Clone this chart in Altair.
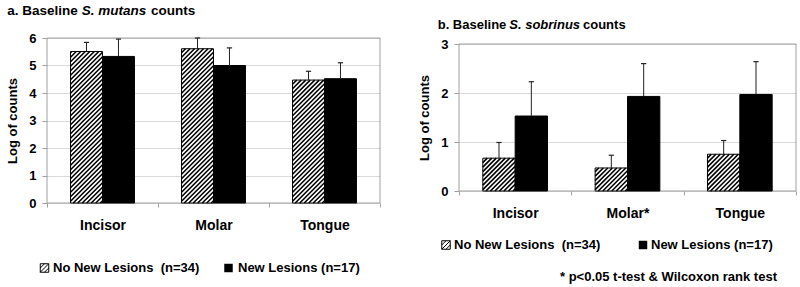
import altair as alt
import pandas as pd

FONT = "Liberation Sans"

categories = ["Incisor", "Molar", "Tongue"]
labels_a = ["Incisor", "Molar", "Tongue"]
labels_b = ["Incisor", "Molar*", "Tongue"]

mutans_no = [5.51, 5.61, 4.47]
mutans_no_err = [0.33, 0.39, 0.32]
mutans_new = [5.33, 5.00, 4.52]
mutans_new_err = [0.63, 0.64, 0.58]

sobrinus_no = [0.67, 0.47, 0.75]
sobrinus_no_err = [0.32, 0.26, 0.28]
sobrinus_new = [1.53, 1.93, 1.97]
sobrinus_new_err = [0.70, 0.67, 0.67]

series = ["No New Lesions \u00a0(n=34)", "New Lesions (n=17)"]
note = "* p<0.05 t-test & Wilcoxon rank test"

BAR_W = 0.288  # fraction of a category slot
GRID = "#d9d9d9"
BORDER = "#a0a0a0"


def bar_table(no, no_err, new, new_err):
    rows = []
    for i, c in enumerate(categories):
        ctr = i + 0.5
        rows.append(dict(cat=c, grp="no", x0=ctr - BAR_W, x1=ctr, v=no[i], top=no[i] + no_err[i], xc=ctr - BAR_W / 2))
        rows.append(dict(cat=c, grp="new", x0=ctr, x1=ctr + BAR_W, v=new[i], top=new[i] + new_err[i], xc=ctr + BAR_W / 2))
    return pd.DataFrame(rows)


def hatch_table(df, kx, ky, step=4.5):
    """Diagonal hatch segments clipped to each 'no' bar, in data units."""
    rows = []
    for _, r in df[df.grp == "no"].iterrows():
        W = (r.x1 - r.x0) * kx
        H = r.v * ky
        b = -W + step / 2
        while b < H:
            u0 = max(0.0, -b)
            u1 = min(W, H - b)
            if u1 > u0:
                rows.append(dict(xa=r.x0 + u0 / kx, ya=(u0 + b) / ky,
                                 xb=r.x0 + u1 / kx, yb=(u1 + b) / ky))
            b += step
    return pd.DataFrame(rows)


def text_layer(t, x, y, size=13, style="normal", align="left", baseline="middle"):
    return alt.Chart(pd.DataFrame({"t": [t]})).mark_text(
        font=FONT, fontWeight="bold", fontSize=size, fontStyle=style,
        align=align, baseline=baseline, color="black"
    ).encode(x=alt.value(x), y=alt.value(y), text="t:N")


HATCH_SHAPE = "M-1,-1H1V1H-1Z M-1,0L0,-1 M-1,1L1,-1 M0,1L1,0"


def panel(no, no_err, new, new_err, ymax, labels, W, VH, top_off, title_parts,
          legend_y, legend_x, note_pos, bound_pt):
    df = bar_table(no, no_err, new, new_err)
    kx = W / 3.0
    ky = (VH - top_off) / float(ymax)
    hatch = hatch_table(df, kx, ky)

    label_expr = " : ".join(
        [f"datum.value == {i + 0.5} ? '{lab}'" for i, lab in enumerate(labels)]
    ) + " : ''"

    xs = alt.Scale(domain=[0, 3], nice=False, zero=False)
    ys = alt.Scale(domain=[0, ymax], nice=False, zero=True, range=[VH, top_off])

    xaxis = alt.Axis(
        values=[0, 0.5, 1, 1.5, 2, 2.5, 3], labelExpr=label_expr, title=None,
        labelFont=FONT, labelFontWeight="bold", labelFontSize=14, labelColor="black",
        labelPadding=11, labelOverlap=False, labelFlush=False, grid=False, domain=False,
        tickSize=4,
        tickColor={"condition": {"test": "datum.value % 1 === 0", "value": BORDER}, "value": "transparent"},
    )
    yaxis = alt.Axis(
        values=list(range(0, ymax + 1)), title="Log of counts", format="d",
        labelFont=FONT, labelFontWeight="bold", labelFontSize=13, labelColor="black",
        labelPadding=6, labelOverlap=False, tickSize=5, tickColor=BORDER, domain=False,
        grid=True, gridColor=GRID, gridWidth=1,
        titleFont=FONT, titleFontWeight="bold", titleFontSize=13, titleColor="black",
        titlePadding=9,
    )

    def X(f):
        return alt.X(f, type="quantitative", scale=xs, axis=xaxis)

    def Y(f):
        return alt.Y(f, type="quantitative", scale=ys, axis=yaxis)

    sw = pd.DataFrame({"s": [0]})
    frame = alt.Chart(sw).mark_rect(fill="transparent", stroke=BORDER, strokeWidth=1).encode(
        x=alt.value(0), x2=alt.value(W), y=alt.value(top_off), y2=alt.value(VH)
    )

    base = alt.Chart(df)
    bars_no = base.transform_filter("datum.grp == 'no'").mark_rect(
        fill="white"
    ).encode(x=X("x0"), x2="x1:Q", y=Y("v"), y2=alt.datum(0))
    hatch_lines = alt.Chart(hatch).mark_rule(color="black", strokeWidth=1.6).encode(
        x=X("xa"), x2="xb:Q", y=Y("ya"), y2="yb:Q"
    )
    bars_outline = base.transform_filter("datum.grp == 'no'").mark_rect(
        fill="transparent", stroke="black", strokeWidth=1
    ).encode(x=X("x0"), x2="x1:Q", y=Y("v"), y2=alt.datum(0))
    bars_new = base.transform_filter("datum.grp == 'new'").mark_rect(
        fill="black", stroke="black", strokeWidth=1
    ).encode(x=X("x0"), x2="x1:Q", y=Y("v"), y2=alt.datum(0))
    err = base.mark_rule(color="#222222", strokeWidth=1).encode(
        x=X("xc"), y=Y("v"), y2="top:Q"
    )
    cap = base.transform_calculate(
        ca=f"datum.xc - {2.6 / kx}", cb=f"datum.xc + {2.6 / kx}"
    ).mark_rule(color="#222222", strokeWidth=1.2).encode(
        x=X("ca"), x2="cb:Q", y=Y("top")
    )

    layers = [frame, bars_no, hatch_lines, bars_outline, bars_new, err, cap]

    # title with italic species name
    (ty, size), parts = title_parts
    for (txt, style, px) in parts:
        layers.append(text_layer(txt, px, ty, size=size, style=style))

    # legend
    lx0, lt0, lx1, lt1 = legend_x
    layers.append(alt.Chart(sw).mark_point(
        shape=HATCH_SHAPE, size=72, filled=False, stroke="black", strokeWidth=1, opacity=1
    ).encode(x=alt.value(lx0), y=alt.value(legend_y)))
    layers.append(text_layer(series[0], lt0, legend_y))
    layers.append(alt.Chart(sw).mark_square(
        size=72, color="black", opacity=1
    ).encode(x=alt.value(lx1), y=alt.value(legend_y)))
    layers.append(text_layer(series[1], lt1, legend_y))
    if note_pos is not None:
        layers.append(text_layer(note, note_pos[0], note_pos[1]))

    # layout anchor (invisible) so the plot area lands where the reference has it
    layers.append(alt.Chart(sw).mark_rule(strokeOpacity=0).encode(
        x=alt.value(bound_pt[0]), x2=alt.value(bound_pt[0]),
        y=alt.value(bound_pt[1]), y2=alt.value(bound_pt[1])
    ))

    return alt.layer(*layers).properties(width=W, height=VH)


# left plot area at (47, 38); right plot area at (458, 44), view origin at (458, 38)
left = panel(
    mutans_no, mutans_no_err, mutans_new, mutans_new_err, 6, labels_a, 333, 165, 0,
    ((-27.5, 13.5), [("a. Baseline", "normal", -39.7), ("S. mutans", "italic", 34.7), ("counts", "normal", 104)]),
    230, (-2.5, 6, 181.5, 191), None, (-47, -38),
)
right = panel(
    sobrinus_no, sobrinus_no_err, sobrinus_new, sobrinus_new_err, 3, labels_b, 337, 153, 6,
    ((-13, 13), [("b. Baseline", "normal", -21.3), ("S. sobrinus", "italic", 50.3), ("counts", "normal", 124)]),
    207, (-13, -5, 184, 192), (101, 238.5), (-78, -38),
)

chart = alt.hconcat(left, right, spacing=0).properties(
    padding=0, background="white"
).configure_view(stroke=None).configure_concat(spacing=0)

chart.save("out.html", embed_options={"renderer": "svg", "actions": False})
